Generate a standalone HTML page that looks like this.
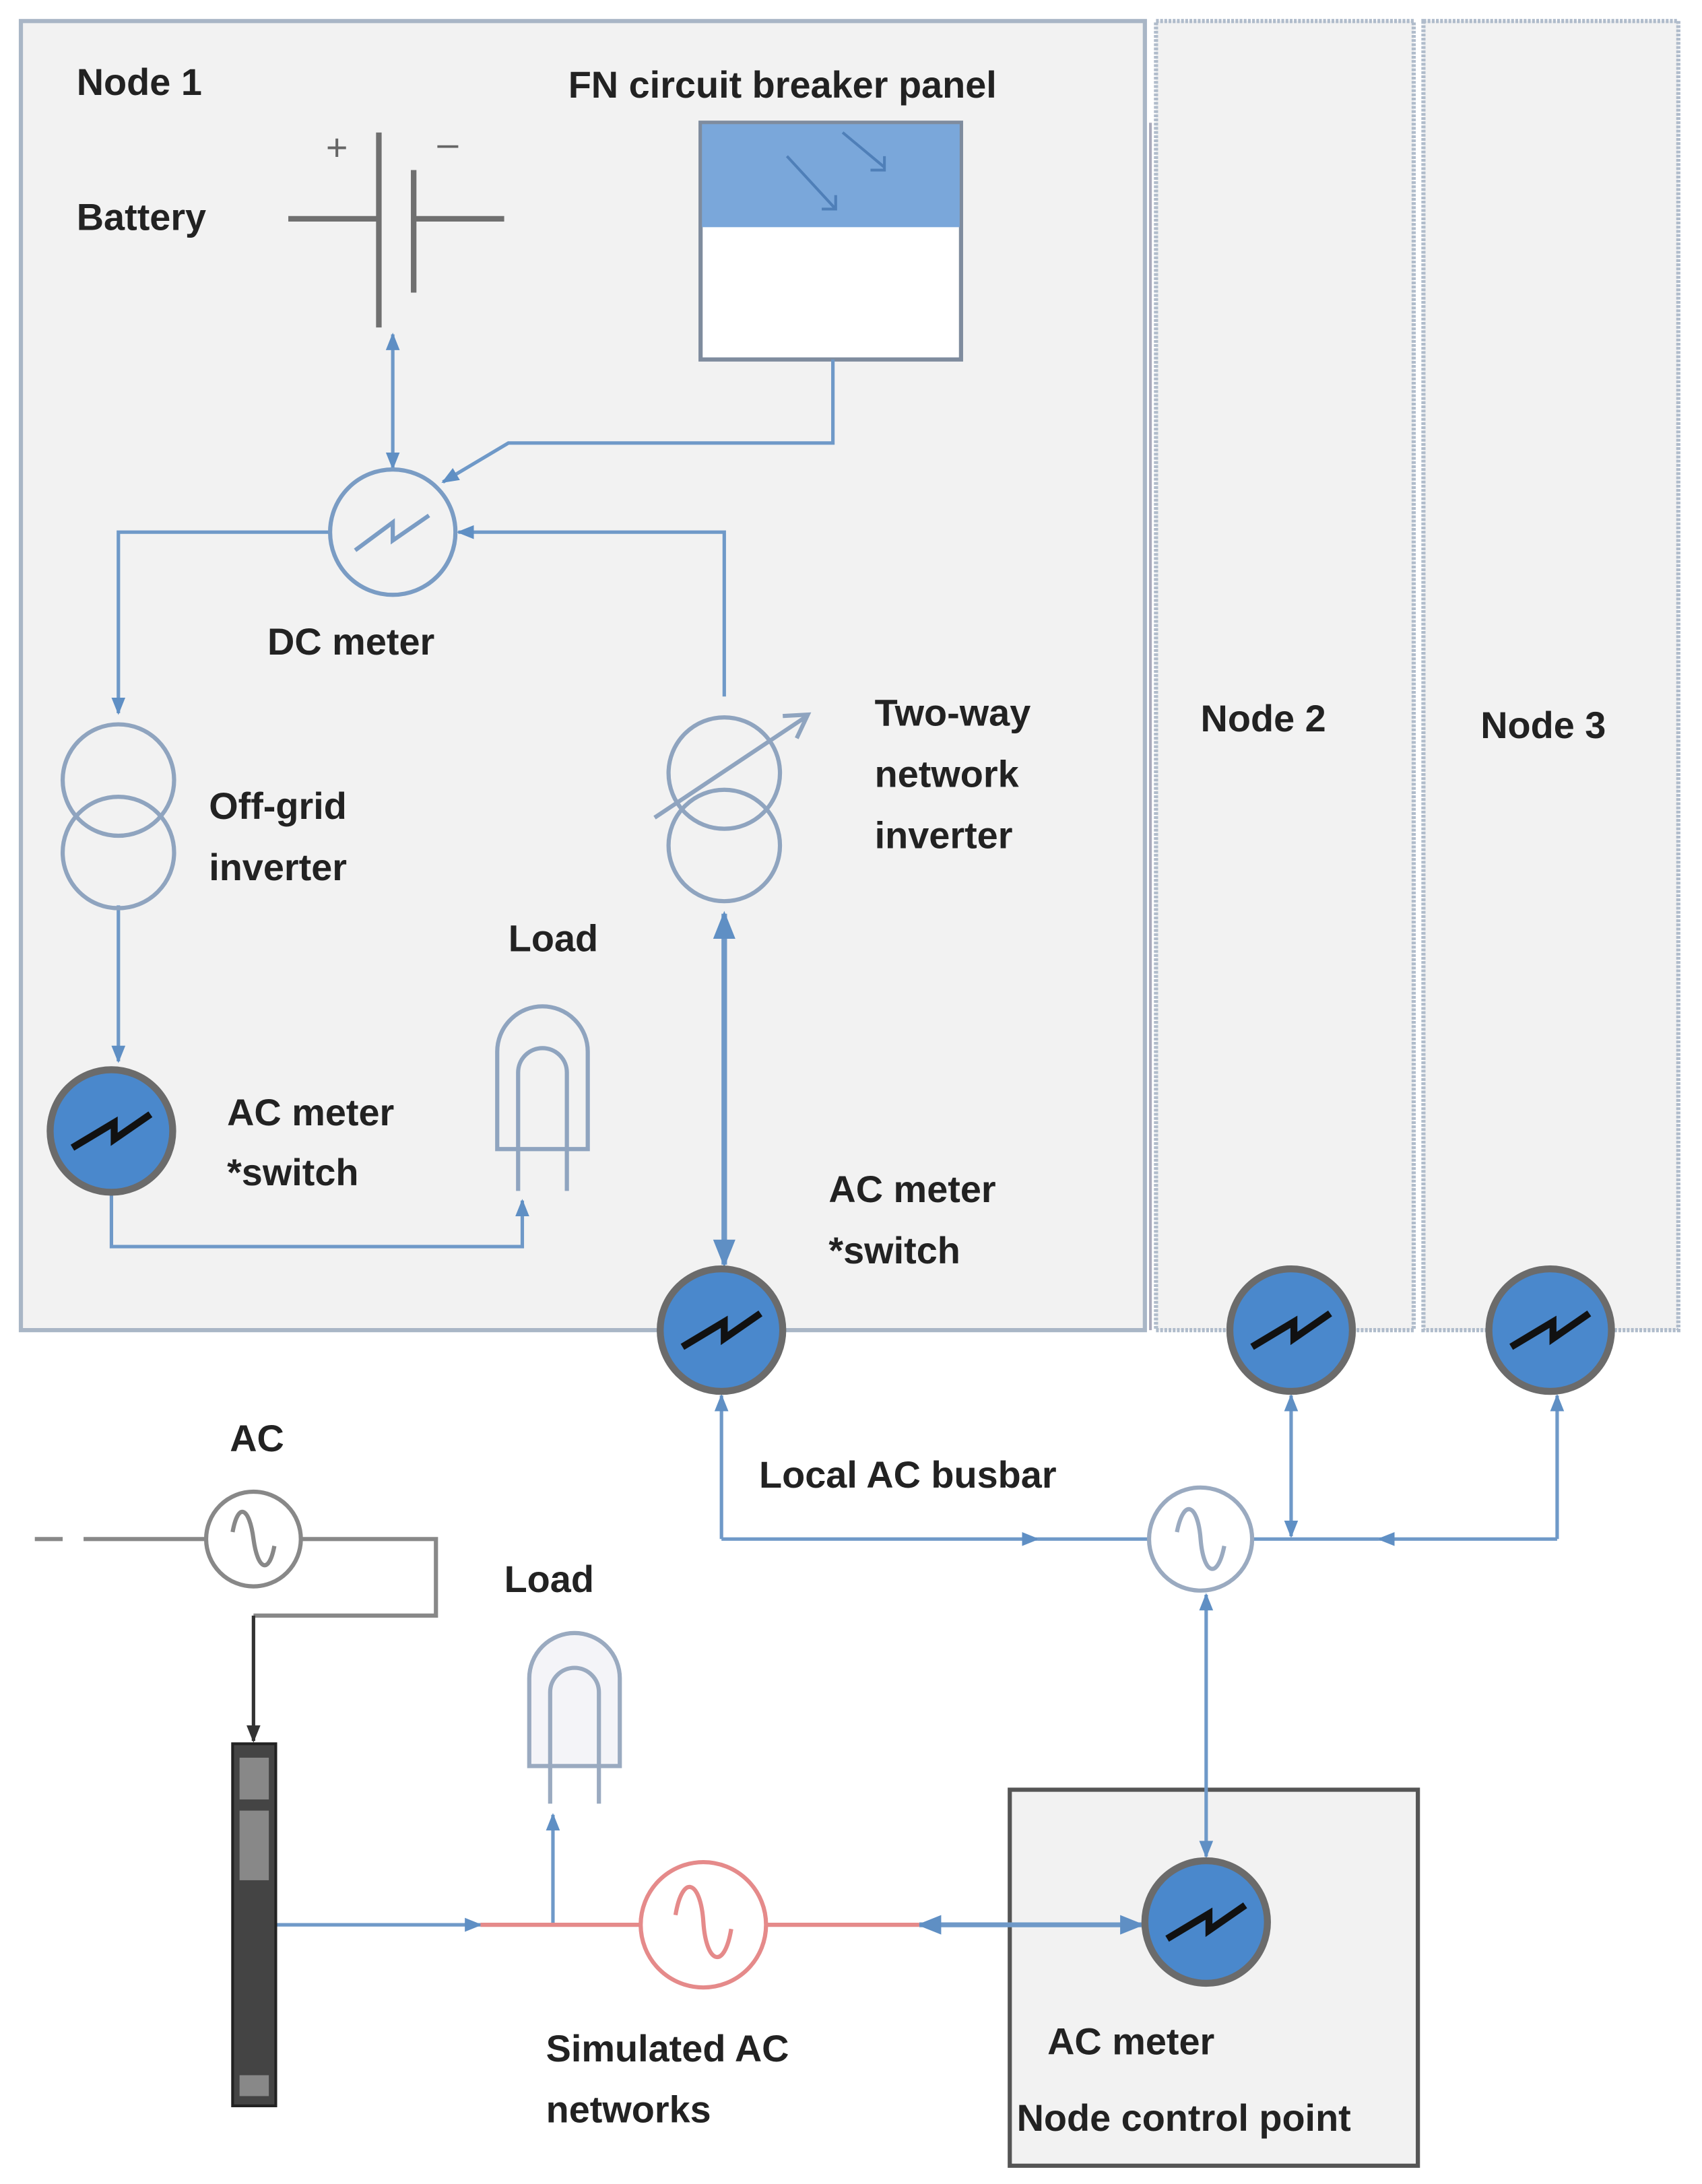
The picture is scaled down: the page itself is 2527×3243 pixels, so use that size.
<!DOCTYPE html>
<html><head><style>html,body{margin:0;padding:0;background:#fff}svg{display:block}
text{font-family:"Liberation Sans",sans-serif;font-weight:bold;fill:#222;font-size:27px}</style></head>
<body>
<svg width="2527" height="3243" viewBox="0 0 1222 1568" xmlns="http://www.w3.org/2000/svg">
<defs>
<marker id="a" viewBox="0 0 10 10" refX="9" refY="5" markerWidth="5" markerHeight="5" orient="auto-start-reverse"><path d="M0,1L10,5L0,9z" fill="#5f8fc4"/></marker>
<marker id="k" viewBox="0 0 10 10" refX="9" refY="5" markerWidth="5" markerHeight="5" orient="auto-start-reverse"><path d="M0,1L10,5L0,9z" fill="#333"/></marker>
<g id="m"><circle r="44" fill="#4a88cc" stroke="#6b6b6b" stroke-width="5"/><path d="M-28,12 L2,-6 L2,6 L28,-12" fill="none" stroke="#111" stroke-width="5"/></g>
</defs>
<rect width="1222" height="1568" fill="#fff"/>
<rect x="15" y="15" width="807" height="940" fill="#f2f2f2" stroke="#a9b6c6" stroke-width="3"/>
<rect x="830" y="15" width="185" height="940" fill="#f2f2f2" stroke="#b0bccb" stroke-width="3" stroke-dasharray="2 1"/>
<rect x="1022" y="15" width="183" height="940" fill="#f2f2f2" stroke="#b0bccb" stroke-width="3" stroke-dasharray="2 1"/>
<line x1="826" y1="88" x2="826" y2="955" stroke="#aab" stroke-width="2"/>
<rect x="725" y="1285" width="293" height="270" fill="#f2f2f2" stroke="#555" stroke-width="3"/>
<text x="55" y="68">Node 1</text>
<text x="408" y="70">FN  circuit breaker panel</text>
<text x="55" y="165">Battery</text>
<text x="234" y="115" style="font-weight:normal;fill:#666">+</text>
<text x="314" y="112" style="font-weight:normal;fill:#666">–</text>
<g stroke="#707070" stroke-width="4"><line x1="272" y1="95" x2="272" y2="235"/><line x1="297" y1="122" x2="297" y2="210"/><line x1="207" y1="157" x2="272" y2="157"/><line x1="297" y1="157" x2="362" y2="157"/></g>
<rect x="503" y="88" width="187" height="170" fill="#fff" stroke="#7f8c9e" stroke-width="3"/>
<rect x="504" y="89" width="185" height="74" fill="#7aa7da"/>
<g stroke="#4f7fb8" stroke-width="2" fill="none"><path d="M565,112 L600,150 M590,150h10v-10"/><path d="M605,95 L635,120 M625,122h10v-10"/></g>
<g stroke="#6f99c8" stroke-width="2.5" fill="none">
<line x1="282" y1="240" x2="282" y2="336" marker-start="url(#a)" marker-end="url(#a)"/>
<polyline points="598,258 598,318 365,318 318,346" marker-end="url(#a)"/>
<polyline points="237,382 85,382 85,512" marker-end="url(#a)"/>
<polyline points="520,500 520,382 329,382" marker-end="url(#a)"/>
<line x1="85" y1="650" x2="85" y2="762" marker-end="url(#a)"/>
<polyline points="80,857 80,895 375,895 375,862" marker-end="url(#a)"/>
<line x1="520" y1="656" x2="520" y2="908" stroke-width="4" marker-start="url(#a)" marker-end="url(#a)"/>
<line x1="518" y1="1002" x2="518" y2="1105" marker-start="url(#a)"/>
<polyline points="518,1105 745,1105" marker-end="url(#a)"/><line x1="745" y1="1105" x2="824" y2="1105"/>
<line x1="927" y1="1002" x2="927" y2="1103" marker-start="url(#a)" marker-end="url(#a)"/>
<line x1="1118" y1="1002" x2="1118" y2="1105" marker-start="url(#a)"/>
<line x1="1118" y1="1105" x2="990" y2="1105" marker-end="url(#a)"/><line x1="990" y1="1105" x2="900" y2="1105"/>
<line x1="866" y1="1145" x2="866" y2="1333" marker-start="url(#a)" marker-end="url(#a)"/>
<line x1="198" y1="1382" x2="345" y2="1382" marker-end="url(#a)"/>
<line x1="397" y1="1382" x2="397" y2="1303" marker-end="url(#a)"/>
<line x1="660" y1="1382" x2="820" y2="1382" stroke-width="3.5" marker-start="url(#a)" marker-end="url(#a)"/>
</g>
<circle cx="282" cy="382" r="45" fill="none" stroke="#7a9cc4" stroke-width="3"/>
<path d="M255,395 L282,375 L282,388 L308,370" fill="none" stroke="#7a9cc4" stroke-width="3"/>
<text x="192" y="470">DC meter</text>
<g fill="none" stroke="#8fa4bf" stroke-width="3"><circle cx="85" cy="560" r="40"/><circle cx="85" cy="612" r="40"/><circle cx="520" cy="555" r="40"/><circle cx="520" cy="607" r="40"/></g>
<line x1="470" y1="587" x2="578" y2="515" stroke="#8fa4bf" stroke-width="3"/><path d="M562,514L580,513L572,530" fill="none" stroke="#8fa4bf" stroke-width="3"/>
<text x="150" y="588">Off-grid</text><text x="150" y="632">inverter</text>
<text x="628" y="521">Two-way</text><text x="628" y="565">network</text><text x="628" y="609">inverter</text>
<text x="365" y="683">Load</text>
<g fill="none" stroke="#8fa4bf" stroke-width="3"><path d="M357,825 V755 a32,32 0 0 1 65,0 V825 Z"/><path d="M372,855 V770 a17,17 0 0 1 35,0 V855"/></g>
<use href="#m" x="80" y="812"/>
<text x="163" y="808">AC meter</text><text x="163" y="851">*switch</text>
<text x="595" y="863">AC meter</text><text x="595" y="907">*switch</text>
<use href="#m" x="518" y="955"/><use href="#m" x="927" y="955"/><use href="#m" x="1113" y="955"/>
<text x="862" y="525">Node 2</text><text x="1063" y="530">Node 3</text>
<text x="545" y="1068">Local AC busbar</text>
<circle cx="862" cy="1105" r="37" fill="#fff" stroke="#9aaac0" stroke-width="3"/>
<path d="M845,1100 c5,-25 15,-20 17,5 c2,25 12,30 17,5" fill="none" stroke="#9aaac0" stroke-width="3"/>
<use href="#m" x="866" y="1380"/>
<text x="752" y="1475">AC meter</text><text x="730" y="1530">Node control point</text>
<text x="165" y="1042">AC</text>
<g stroke="#888" stroke-width="3" fill="none"><line x1="25" y1="1105" x2="45" y2="1105"/><line x1="60" y1="1105" x2="148" y2="1105"/><polyline points="216,1105 313,1105 313,1160 182,1160"/>
<circle cx="182" cy="1105" r="34"/><path d="M167,1100 c4,-22 12,-18 15,5 c3,22 11,26 15,5"/></g>
<line x1="182" y1="1160" x2="182" y2="1250" stroke="#333" stroke-width="2.5" marker-end="url(#k)"/>
<rect x="167" y="1252" width="31" height="260" fill="#444" stroke="#222" stroke-width="2"/>
<g fill="#888"><rect x="172" y="1262" width="21" height="30"/><rect x="172" y="1300" width="21" height="50"/><rect x="172" y="1490" width="21" height="15"/></g>
<text x="362" y="1143">Load</text>
<g fill="none" stroke="#9aaac0" stroke-width="3"><path d="M380,1268 V1205 a32,32 0 0 1 65,0 V1268 Z" fill="#f4f4f8"/><path d="M395,1295 V1215 a17,17 0 0 1 35,0 V1295"/></g>
<g stroke="#e58a8a" stroke-width="3" fill="none"><line x1="345" y1="1382" x2="460" y2="1382"/><line x1="550" y1="1382" x2="660" y2="1382"/>
<circle cx="505" cy="1382" r="45"/><path d="M485,1375 c5,-30 18,-25 20,5 c2,30 15,35 20,5"/></g>
<text x="392" y="1480">Simulated AC</text><text x="392" y="1524">networks</text>
</svg>
</body></html>
